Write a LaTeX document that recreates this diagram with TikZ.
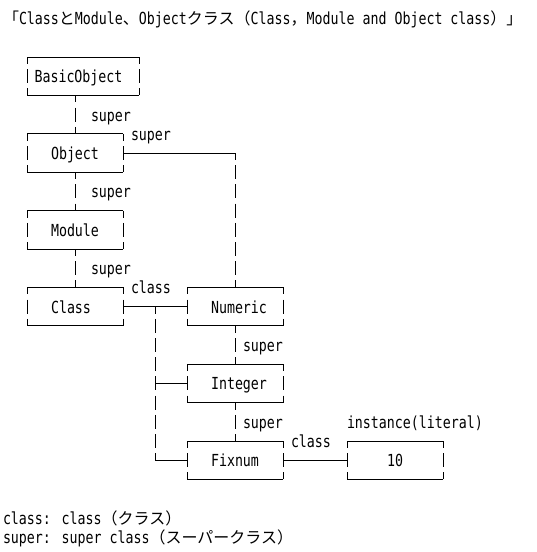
\documentclass[tikz,border=0pt]{standalone}
\usepackage{fontspec}
\setmainfont{DejaVu Sans Mono}[FakeStretch=0.8]
\newfontfamily\cjk{Noto Sans CJK JP}[Scale=0.964]
\newcommand\ry[1]{57+19.2*(#1)}
\begin{document}
\begin{tikzpicture}[x=1pt,y=-1pt,
  every node/.style={font=\fontsize{16.6pt}{19.2pt}\selectfont, inner sep=0pt, outer sep=0pt},
  abox/.style={minimum height=38.4pt, minimum width=96pt, text height=13pt, text depth=0pt},
  lbl/.style={anchor=base west},
  conn/.style={line width=1pt},
  vdash/.style={line width=1pt, dash pattern=on 14pt off 5.2pt, dash phase=7pt}]
\fill[white] (0,0) rectangle (537,552);
\useasboundingbox (0,0) rectangle (537,552);

% title
\node[lbl] (title) at (3,{\ry{-2}+5.5}) {{\cjk 「}Class{\cjk と}Module{\cjk 、}Object{\cjk クラス（}Class{\cjk ，}Module and Object class{\cjk ）」}};

% boxes
\node[abox, minimum width=112pt] (bo) at (83,{\ry{1}}) {\hspace*{-9pt}BasicObject};
\node[abox] (ob) at (75,{\ry{5}}) {Object};
\node[abox] (mo) at (75,{\ry{9}}) {Module};
\node[abox] (cl) at (75,{\ry{13}}) {\hspace*{-8pt}Class};
\node[abox] (nu) at (235,{\ry{13}}) {\hspace*{8pt}Numeric};
\node[abox] (in) at (235,{\ry{17}}) {\hspace*{8pt}Integer};
\node[abox] (fi) at (235,{\ry{21}}) {Fixnum};
\node[abox] (ten) at (395,{\ry{21}}) {10};

\foreach \b in {bo,ob,mo,cl,nu,in,fi,ten}{
  \draw[conn] (\b.north west) -- (\b.north east) (\b.south west) -- (\b.south east);
  \draw[vdash] (\b.north west) -- (\b.south west) (\b.north east) -- (\b.south east);
}

% coordinates for bends and junctions
\coordinate (c1) at (ob.east -| nu.north);
\coordinate (j1) at (155,{\ry{13}});
\coordinate (j2) at (j1 |- in.west);
\coordinate (j3) at (j1 |- fi.west);

% connectors
\draw[vdash] (ob.north |- bo.south) -- (ob.north);
\draw[vdash] (ob.south) -- (mo.north);
\draw[vdash] (mo.south) -- (cl.north);
\draw[conn] (ob.east) -- (c1);
\draw[vdash] (c1) -- (nu.north);
\draw[conn] (cl.east) -- (nu.west);
\draw[vdash] (j1) -- (j3);
\draw[conn] (j2) -- (in.west);
\draw[conn] (j3) -- (fi.west);
\draw[vdash] (nu.south) -- (in.north);
\draw[vdash] (in.south) -- (fi.north);
\draw[conn] (fi.east) -- (ten.west);

% labels
\node[lbl] (s1) at (91,{\ry{3}+6.5}) {super};
\node[lbl] (s2) at (131,{\ry{4}+6.5}) {super};
\node[lbl] (s3) at (91,{\ry{7}+6.5}) {super};
\node[lbl] (s4) at (91,{\ry{11}+6.5}) {super};
\node[lbl] (k1) at (131,{\ry{12}+6.5}) {class};
\node[lbl] (s5) at (243,{\ry{15}+6.5}) {super};
\node[lbl] (s6) at (243,{\ry{19}+6.5}) {super};
\node[lbl] (k2) at (291,{\ry{20}+6.5}) {class};
\node[lbl] (inst) at (347,{\ry{19}+6.5}) {instance(literal)};

% legend
\node[lbl] (leg1) at (3,{\ry{24}+6.5}) {class: class{\cjk （クラス）}};
\node[lbl] (leg2) at (3,{\ry{25}+6.5}) {super: super class{\cjk （スーパークラス）}};
\end{tikzpicture}
\end{document}
